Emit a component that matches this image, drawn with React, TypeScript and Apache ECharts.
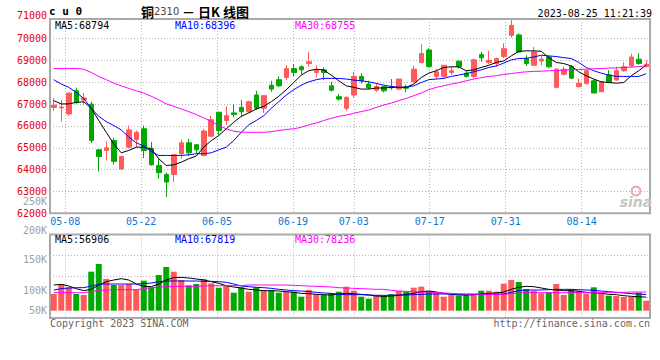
import React, { useEffect, useRef } from 'react';
import * as echarts from 'echarts';

const dates = [
  '05-04','05-05','05-08','05-09','05-10','05-11','05-12','05-15','05-16','05-17','05-18','05-19','05-22','05-23','05-24','05-25','05-26','05-29','05-30','05-31',
  '06-01','06-02','06-05','06-06','06-07','06-08','06-09','06-12','06-13','06-14','06-15','06-16','06-19','06-20','06-21','06-26','06-27','06-28','06-29','06-30',
  '07-03','07-04','07-05','07-06','07-07','07-10','07-11','07-12','07-13','07-14','07-17','07-18','07-19','07-20','07-21','07-24','07-25','07-26','07-27','07-28','07-31',
  '08-01','08-02','08-03','08-04','08-07','08-08','08-09','08-10','08-11','08-14','08-15','08-16','08-17','08-18','08-21','08-22','08-23','08-24','08-25'
];
const tickDates = ['05-08','05-22','06-05','06-19','07-03','07-17','07-31','08-14'];

const opens = [66850,66830,66550,67610,67190,67000,64910,64880,65330,64030,65030,65380,65870,64980,64190,63780,63780,64730,65230,65140,
  64650,65530,66630,66250,66600,66850,66650,67420,66810,67870,68120,68220,68630,68710,68860,68450,68570,67840,67340,66810,
  67420,68270,67920,67640,67800,67800,67690,67800,68020,68910,69480,68270,68270,68450,68970,68420,68270,69270,68910,68860,
  69180,70150,70170,69090,68780,68980,69160,67770,68370,68720,67800,67950,68070,67570,68340,68110,68530,68750,69060,68720];
const closes = [66960,66870,67510,67080,67280,65330,64600,65000,64380,64600,65820,65710,64880,64220,63860,63430,64680,65230,64770,64910,
  65770,66290,65790,66470,66520,66650,67110,66810,67390,67690,67840,68630,68450,68570,68940,68540,68450,67640,67230,67310,
  68270,68070,67750,67810,67610,67750,68150,67730,68600,69320,68720,68480,68780,68530,68720,68270,69030,69120,69000,69090,
  69540,70610,69390,68860,69390,69060,68710,68600,68600,68190,67960,68530,67510,68020,67990,68530,68710,69160,68860,68830];
const highs = [67280,67200,67510,67760,67510,67110,64910,65290,65440,64600,66020,65790,66020,65260,64530,63860,64680,65380,65410,65180,
  65870,66470,66650,66900,67000,67190,67160,67610,67420,68070,68270,68780,68830,68780,69390,68780,68680,68020,67460,67360,
  68480,68420,68070,67960,67840,68150,68150,67900,68750,69740,69560,68600,68780,68720,69000,68520,69090,69390,69450,69130,
  69790,70850,70240,69240,69620,69210,69210,68650,68720,68780,68180,68600,68120,68070,68560,68710,68910,69320,69330,69010];
const lows = [66700,66200,66470,67000,66960,65220,63920,64420,64240,64000,65000,65030,64530,64190,63590,62750,63430,64500,64620,64730,
  64600,65490,65590,66050,66400,66430,66620,66730,66600,67570,67770,68100,68270,68360,68710,68220,68100,67570,67160,66700,
  67310,67950,67690,67570,67540,67660,67640,67540,67990,68860,68680,68150,68190,68340,68630,68220,68190,68940,68830,68710,
  69120,70050,69360,68750,68780,68780,68650,67720,68300,68150,67770,67890,67510,67570,67960,68070,68480,68710,68800,68680];

const ma5 = [67160,67010,67010,67080,67110,66810,66250,65710,65180,64770,64880,65030,65030,64950,64500,64190,64220,64340,64500,64620,
  65030,65330,65560,65870,66170,66440,66600,66780,66900,67110,67360,67660,67990,68330,68530,68600,68560,68330,68070,67840,
  67770,67690,67690,67740,67740,67770,67770,67770,67920,68220,68420,68530,68680,68710,68710,68530,68570,68680,68780,68910,
  68980,69210,69420,69440,69440,69420,69130,68910,68860,68750,68480,68300,68150,68020,67990,67960,67990,68300,68530,68794];
const ma10 = [68120,67920,67770,67540,67260,66810,66440,66200,66020,65820,65490,65230,65080,64830,64650,64650,64650,64650,64680,64730,
  64730,64770,64910,65030,65330,65710,66050,66250,66470,66810,67110,67420,67660,67870,68020,68120,68180,68180,68180,68150,
  68100,68070,68020,67950,67870,67810,67770,67770,67840,67990,68120,68150,68180,68270,68330,68400,68480,68570,68680,68750,
  68880,69030,69090,69100,69160,69240,69210,69180,69130,69090,68910,68680,68530,68420,68330,68270,68270,68270,68270,68396];
const ma30 = [68630,68630,68630,68630,68600,68450,68270,68120,67960,67840,67720,67610,67510,67360,67200,67010,66900,66780,66660,66520,
  66370,66200,66020,65870,65760,65720,65710,65710,65710,65740,65790,65840,65870,65940,66050,66140,66250,66350,66440,66500,
  66580,66660,66730,66850,66960,67050,67160,67260,67390,67510,67660,67770,67840,67920,67990,68070,68150,68210,68270,68300,
  68360,68400,68450,68480,68500,68510,68530,68540,68560,68570,68590,68600,68620,68630,68650,68660,68680,68690,68720,68755];

const volumes = [70100,112100,98200,70100,65900,163800,196100,133100,107900,107900,
  112100,89700,126100,98200,149900,183500,163800,128900,106500,112100,
  133100,114900,96700,107900,75700,98200,79900,98200,84100,86900,
  75700,79900,79900,58900,86900,68700,65900,72900,79900,100900,
  84100,58900,50500,65900,61700,70100,82700,79900,96700,100900,
  82700,77100,58900,65900,63100,65900,68700,84100,84100,79900,
  113500,128900,120500,91100,84100,72900,78500,112100,65900,89700,
  84100,71500,98200,72900,63100,61700,57500,57500,75700,42100];
const volMa5 = [107900,110700,103700,92600,84100,89700,107900,121900,128900,134500,
  128900,112100,102300,100900,112100,128900,138700,140100,137300,133100,
  128900,121900,114900,105100,99500,95300,89700,86900,84100,84100,
  82700,79900,77100,72900,71500,68700,67300,65900,70100,72900,
  71500,68700,65900,61700,60300,61700,64500,68700,72900,79900,
  82700,78500,72900,68700,65900,65900,67300,70100,72900,74300,
  78500,89700,98200,102300,100900,95300,89700,86900,84100,84100,
  81300,77100,75700,72900,68700,67300,63100,60300,58900,56906];
const volMa10 = [86900,92600,95300,96700,96700,103700,110700,112100,112100,112100,
  112100,112100,113500,116300,121900,124700,124700,124700,124700,124700,
  123300,123300,121900,119100,112100,103700,100900,98200,96700,93900,
  89700,86900,84100,82700,79900,77100,74300,72900,68700,67300,
  67300,67300,65900,64500,64500,64500,65900,65900,67300,68700,
  70100,70100,70100,70100,68700,68700,68700,68700,68700,68700,
  70100,77100,84100,86900,86900,86900,88300,89700,89700,89700,
  88300,86900,85500,82700,79900,77100,74300,71500,70100,67819];
const volMa30 = [75700,75700,75700,75700,75700,79900,85500,86900,88300,88300,
  88300,88300,92600,96700,99500,100900,102300,102300,102300,102300,
  103700,105100,105100,105100,105100,105100,107900,107900,107900,107900,
  107900,107900,106500,105100,103700,102300,100900,99500,96700,95300,
  93900,92600,91200,89700,89700,85500,82700,81300,79900,78500,
  77100,75700,74300,72900,71500,70100,70100,68700,68700,68700,
  68700,71500,74300,75700,75700,75700,75700,75700,75700,75700,
  75700,75700,75700,77100,77100,77100,77100,78500,78500,78236];

const volTickLabels = ['250K', '200K', '150K', '100K', '50K'];
const priceTopLabel = '71000';
const priceLegend = ['MA5:68794', 'MA10:68396', 'MA30:68755'];
const volLegend = ['MA5:56906', 'MA10:67819', 'MA30:78236'];

const UP = '#ff5a5a';
const DOWN = '#00a800';
const MONO = '"DejaVu Sans Mono", monospace';
const dotted = { color: '#b4b4b4', type: [1, 2], width: 1 };
const tickSet = new Set(tickDates);
const showTick = (_i: number, v: string) => tickSet.has(v);

function txt(text: string, x: number, y: number, fill: string, align = 'left', font = `10px ${MONO}`) {
  return { type: 'text', x, y, silent: true, z: 10, style: { text, fill, font, align, verticalAlign: 'middle' } };
}

export default function App() {
  const ref = useRef<HTMLDivElement>(null);
  useEffect(() => {
    document.body.style.margin = '0';
    const chart = echarts.init(ref.current!, null, { renderer: 'svg' });
    const volLabelY = [201.5, 230.3, 259.7, 290.5, 310];
    const legendX = [55, 175, 295];
    const legendColors = ['#000000', '#0000ff', '#ff00ff'];
    const graphic: any[] = [
      txt(priceTopLabel, 47, 15, '#e80000', 'right'),
      txt('c u 0', 49, 11.5, '#000', 'left', `bold 11px ${MONO}`),
      {
        type: 'text', x: 141, y: 11.5, silent: true,
        style: {
          text: '{a|铜}{b|2310}{a| － 日K 线图}', verticalAlign: 'middle', align: 'left',
          rich: {
            a: { fill: '#000', fontSize: 13, lineHeight: 14, fontFamily: '"Noto Sans CJK SC"', fontWeight: 'bold' },
            b: { fill: '#444', fontSize: 11, lineHeight: 14, fontFamily: '"Liberation Sans Narrow", "DejaVu Sans Condensed", sans-serif' },
          },
        },
      },
      txt('2023-08-25 11:21:39', 652, 13.5, '#000', 'right'),
      txt('Copyright 2023 SINA.COM', 50, 323.5, '#666666', 'left'),
      txt('http://finance.sina.com.cn', 650, 323.5, '#666666', 'right'),
      { type: 'circle', silent: true, shape: { cx: 636, cy: 191, r: 4.5 }, style: { fill: 'none', stroke: '#f4a8a8', lineWidth: 2 } },
      txt('sina', 636, 202, '#c4c4c4', 'center', `italic bold 14px "DejaVu Sans", sans-serif`),
    ];
    volTickLabels.forEach((t, i) => graphic.push(txt(t, 47, volLabelY[i], '#a0a0a0', 'right')));
    priceLegend.forEach((t, i) => graphic.push(txt(t, legendX[i], 25.5, legendColors[i])));
    volLegend.forEach((t, i) => graphic.push(txt(t, legendX[i], 239, legendColors[i])));

    const line = (data: number[], color: string, xi: number, yi: number) => ({
      type: 'line', data, xAxisIndex: xi, yAxisIndex: yi, symbol: 'none', showSymbol: false, silent: true,
      lineStyle: { color, width: 1 },
    });

    chart.setOption({
      animation: false,
      backgroundColor: '#ffffff',
      grid: [
        { left: 50, top: 19, width: 600, height: 194.3, show: true, borderColor: '#a8a8a8', borderWidth: 2 },
        { left: 50, top: 234.5, width: 600, height: 83.5, show: true, borderColor: '#a8a8a8', borderWidth: 2 },
      ],
      xAxis: [
        { type: 'category', gridIndex: 0, position: 'top', data: dates, boundaryGap: true, show: false },
        {
          type: 'category', gridIndex: 0, position: 'bottom', data: dates, boundaryGap: false,
          axisLine: { show: false }, axisTick: { show: false },
          axisLabel: { interval: showTick, color: '#0a78d0', fontFamily: MONO, fontSize: 10, margin: 3 },
          splitLine: { show: true, interval: showTick, lineStyle: dotted },
        },
        { type: 'category', gridIndex: 1, position: 'top', data: dates, boundaryGap: true, show: false },
        {
          type: 'category', gridIndex: 1, position: 'bottom', data: dates, boundaryGap: false,
          axisLine: { show: false }, axisTick: { show: false }, axisLabel: { show: false },
          splitLine: { show: true, interval: showTick, lineStyle: dotted },
        },
      ],
      yAxis: [
        {
          type: 'value', gridIndex: 0, min: 62000, max: 70900, interval: 1000,
          axisLine: { show: false }, axisTick: { show: false },
          axisLabel: {
            formatter: (v: number) => (v % 1000 === 0 ? String(v) : ''),
            color: '#e80000', fontFamily: MONO, fontSize: 10, margin: 3, padding: [0, 0, 4, 0],
          },
          splitLine: { lineStyle: dotted },
        },
        { type: 'value', gridIndex: 1, min: -30660, max: 320040, show: false, splitLine: { show: false } },
        {
          type: 'value', gridIndex: 1, min: 0, max: 4, interval: 1,
          axisLine: { show: false }, axisTick: { show: false }, axisLabel: { show: false },
          splitLine: { lineStyle: dotted },
        },
      ],
      series: [
        {
          type: 'candlestick', xAxisIndex: 0, yAxisIndex: 0, barWidth: 5, silent: true,
          data: dates.map((_, i) => [opens[i], closes[i], lows[i], highs[i]]),
          itemStyle: { color: UP, color0: DOWN, borderColor: UP, borderColor0: DOWN, borderWidth: 1 },
        },
        line(ma5, '#000000', 0, 0),
        line(ma10, '#0000ff', 0, 0),
        line(ma30, '#ff00ff', 0, 0),
        {
          type: 'bar', xAxisIndex: 2, yAxisIndex: 1, barWidth: 6, silent: true,
          data: volumes.map((v, i) => ({ value: v, itemStyle: { color: closes[i] >= opens[i] ? UP : DOWN } })),
        },
        line(volMa5, '#000000', 2, 1),
        line(volMa10, '#0000ff', 2, 1),
        line(volMa30, '#ff00ff', 2, 1),
      ],
      graphic,
    });
    return () => chart.dispose();
  }, []);
  return <div ref={ref} style={{ position: 'absolute', left: 0, top: 0, width: 660, height: 360 }} />;
}
